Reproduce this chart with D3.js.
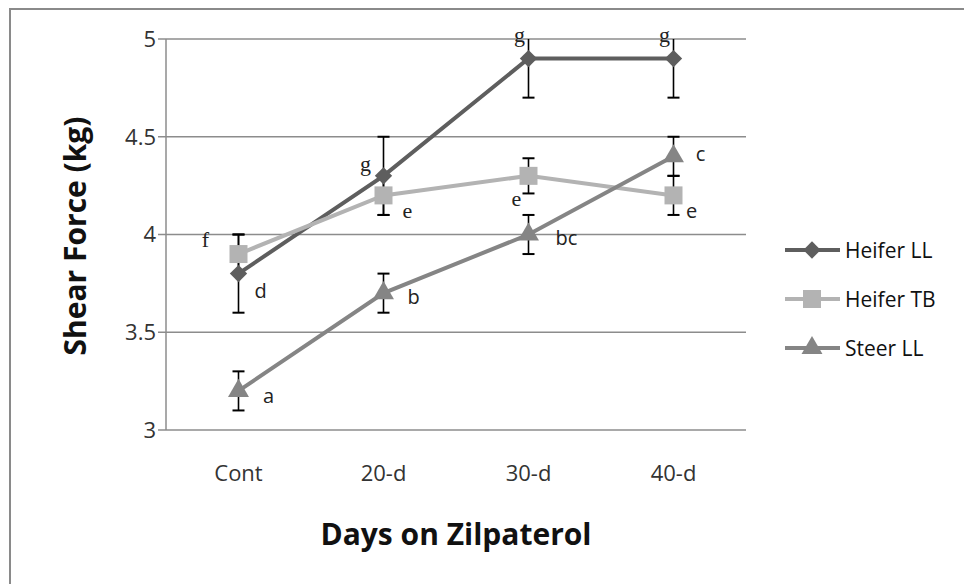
<!DOCTYPE html>
<html><head><meta charset="utf-8">
<script src="https://cdn.jsdelivr.net/npm/d3@7"></script>
<style>body{margin:0;background:#fff}svg{display:block}</style>
</head><body>
<svg id="c" width="964" height="584"></svg>
<script>
const categories = ["Cont", "20-d", "30-d", "40-d"];
const seriesNames = ["Heifer LL", "Heifer TB", "Steer LL"];
const heiferLL = [3.8, 4.3, 4.9, 4.9];
const heiferLLErr = [0.2, 0.2, 0.2, 0.2];
const heiferTB = [3.9, 4.2, 4.3, 4.2];
const heiferTBErr = [0.1, 0.1, 0.09, 0.1];
const steerLL = [3.2, 3.7, 4.0, 4.4];
const steerLLErr = [0.1, 0.1, 0.1, 0.1];
const heiferLLLabels = ["d", "g", "g", "g"];
const heiferTBLabels = ["f", "e", "e", "e"];
const steerLLLabels = ["a", "b", "bc", "c"];
const yTicks = [3, 3.5, 4, 4.5, 5];

const diamond = {draw(ctx, size){ const r = Math.sqrt(size/2); ctx.moveTo(0,-r); ctx.lineTo(r,0); ctx.lineTo(0,r); ctx.lineTo(-r,0); ctx.closePath(); }};

const series = [
  {name: seriesNames[0], values: heiferLL, err: heiferLLErr, labels: heiferLLLabels, color: "#5e5e5e", marker: diamond, msize: 150,
   off: [[22,17],[-18,-13],[-9,-24],[-9,-24]], serif: [false,true,true,true]},
  {name: seriesNames[1], values: heiferTB, err: heiferTBErr, labels: heiferTBLabels, color: "#b3b3b3", marker: d3.symbolSquare, msize: 324,
   off: [[-33,-15],[24,15],[-12,22],[18,16]], serif: [true,true,true,false]},
  {name: seriesNames[2], values: steerLL, err: steerLLErr, labels: steerLLLabels, color: "#858585", marker: d3.symbolTriangle, msize: 190,
   off: [[30,5],[30,4],[38,3],[27,-2]], serif: [false,false,false,false]}
];

const svg = d3.select("#c");
const font = "'Open Sans', 'Noto Sans', sans-serif";

// outer frame
svg.append("path").attr("d","M10,584 V9 H964").attr("fill","none").attr("stroke","#8a8a8a").attr("stroke-width",2);

const x = d3.scaleBand().domain(categories).range([166, 746]);
const y = d3.scaleLinear().domain([3, 5]).range([430, 39]);
const cx = c => x(c) + x.bandwidth()/2;

// gridlines
svg.append("g").selectAll("line").data(yTicks).join("line")
  .attr("x1", 158).attr("x2", 746).attr("y1", d => y(d)).attr("y2", d => y(d))
  .attr("stroke", "#8c8c8c").attr("stroke-width", 1.5);
// y axis line
svg.append("line").attr("x1",166).attr("x2",166).attr("y1",y(5)).attr("y2",y(3)).attr("stroke","#8c8c8c").attr("stroke-width",1.5);

// y tick labels
svg.append("g").selectAll("text").data(yTicks).join("text")
  .attr("x", 156).attr("y", d => y(d)).attr("dy","0.36em").attr("text-anchor","end")
  .attr("font-family", font).attr("font-size", 22).attr("fill","#333")
  .text(d => d3.format("")(d));
// x tick labels
svg.append("g").selectAll("text").data(categories).join("text")
  .attr("x", d => cx(d)).attr("y", 481).attr("text-anchor","middle")
  .attr("font-family", font).attr("font-size", 22).attr("fill","#333")
  .text(d => d);

// axis titles
svg.append("text").attr("transform","translate(86,236) rotate(-90)").attr("text-anchor","middle")
  .attr("font-family", font).attr("font-weight","bold").attr("font-size", 30).attr("fill","#111").text("Shear Force (kg)");
svg.append("text").attr("x",456).attr("y",545).attr("text-anchor","middle")
  .attr("font-family", font).attr("font-weight","bold").attr("font-size", 30).attr("fill","#111").text("Days on Zilpaterol");

const line = d3.line().x((d,i) => cx(categories[i])).y(d => y(d));

svg.append("clipPath").attr("id","pc").append("rect").attr("x",150).attr("y",y(5)).attr("width",620).attr("height",y(3)-y(5)+20);

series.forEach(s => {
  svg.append("path").datum(s.values).attr("d", line).attr("fill","none")
    .attr("stroke", s.color).attr("stroke-width", 4);
});

// error bars
series.forEach(s => {
  const g = svg.append("g").attr("clip-path","url(#pc)").attr("stroke","#000").attr("stroke-width",1.6);
  s.values.forEach((v,i) => {
    const px = cx(categories[i]);
    const hi = y(v + s.err[i]), lo = y(v - s.err[i]);
    g.append("line").attr("x1",px).attr("x2",px).attr("y1",hi).attr("y2",lo);
    if (v + s.err[i] <= 5) g.append("line").attr("x1",px-6).attr("x2",px+6).attr("y1",hi).attr("y2",hi).attr("stroke-width",2);
    g.append("line").attr("x1",px-6).attr("x2",px+6).attr("y1",lo).attr("y2",lo).attr("stroke-width",2);
  });
});

// markers
series.forEach(s => {
  svg.append("g").selectAll("path").data(s.values).join("path")
    .attr("transform", (d,i) => `translate(${cx(categories[i])},${y(d)})`)
    .attr("d", d3.symbol().type(s.marker).size(s.msize)).attr("fill", s.color);
});

// letter labels
series.forEach(s => {
  svg.append("g").selectAll("text").data(s.labels).join("text")
    .attr("x", (d,i) => cx(categories[i]) + s.off[i][0])
    .attr("y", (d,i) => y(s.values[i]) + s.off[i][1])
    .attr("dy","0.35em").attr("text-anchor","middle")
    .attr("font-family", (d,i) => s.serif[i] ? "'Liberation Serif', 'DejaVu Serif', serif" : font)
    .attr("font-size", (d,i) => s.serif[i] ? 22 : 20).attr("fill","#222")
    .text(d => d);
});

// legend
const lg = svg.append("g");
series.forEach((s,i) => {
  const ly = 250 + i*49;
  lg.append("line").attr("x1",785).attr("x2",840).attr("y1",ly).attr("y2",ly).attr("stroke",s.color).attr("stroke-width",4);
  lg.append("path").attr("transform",`translate(812,${ly})`).attr("d", d3.symbol().type(s.marker).size(s.msize)).attr("fill",s.color);
  lg.append("text").attr("x",845).attr("y",ly).attr("dy","0.36em").attr("font-family",font).attr("font-size",21).attr("fill","#111").text(s.name);
});
</script>
</body></html>
